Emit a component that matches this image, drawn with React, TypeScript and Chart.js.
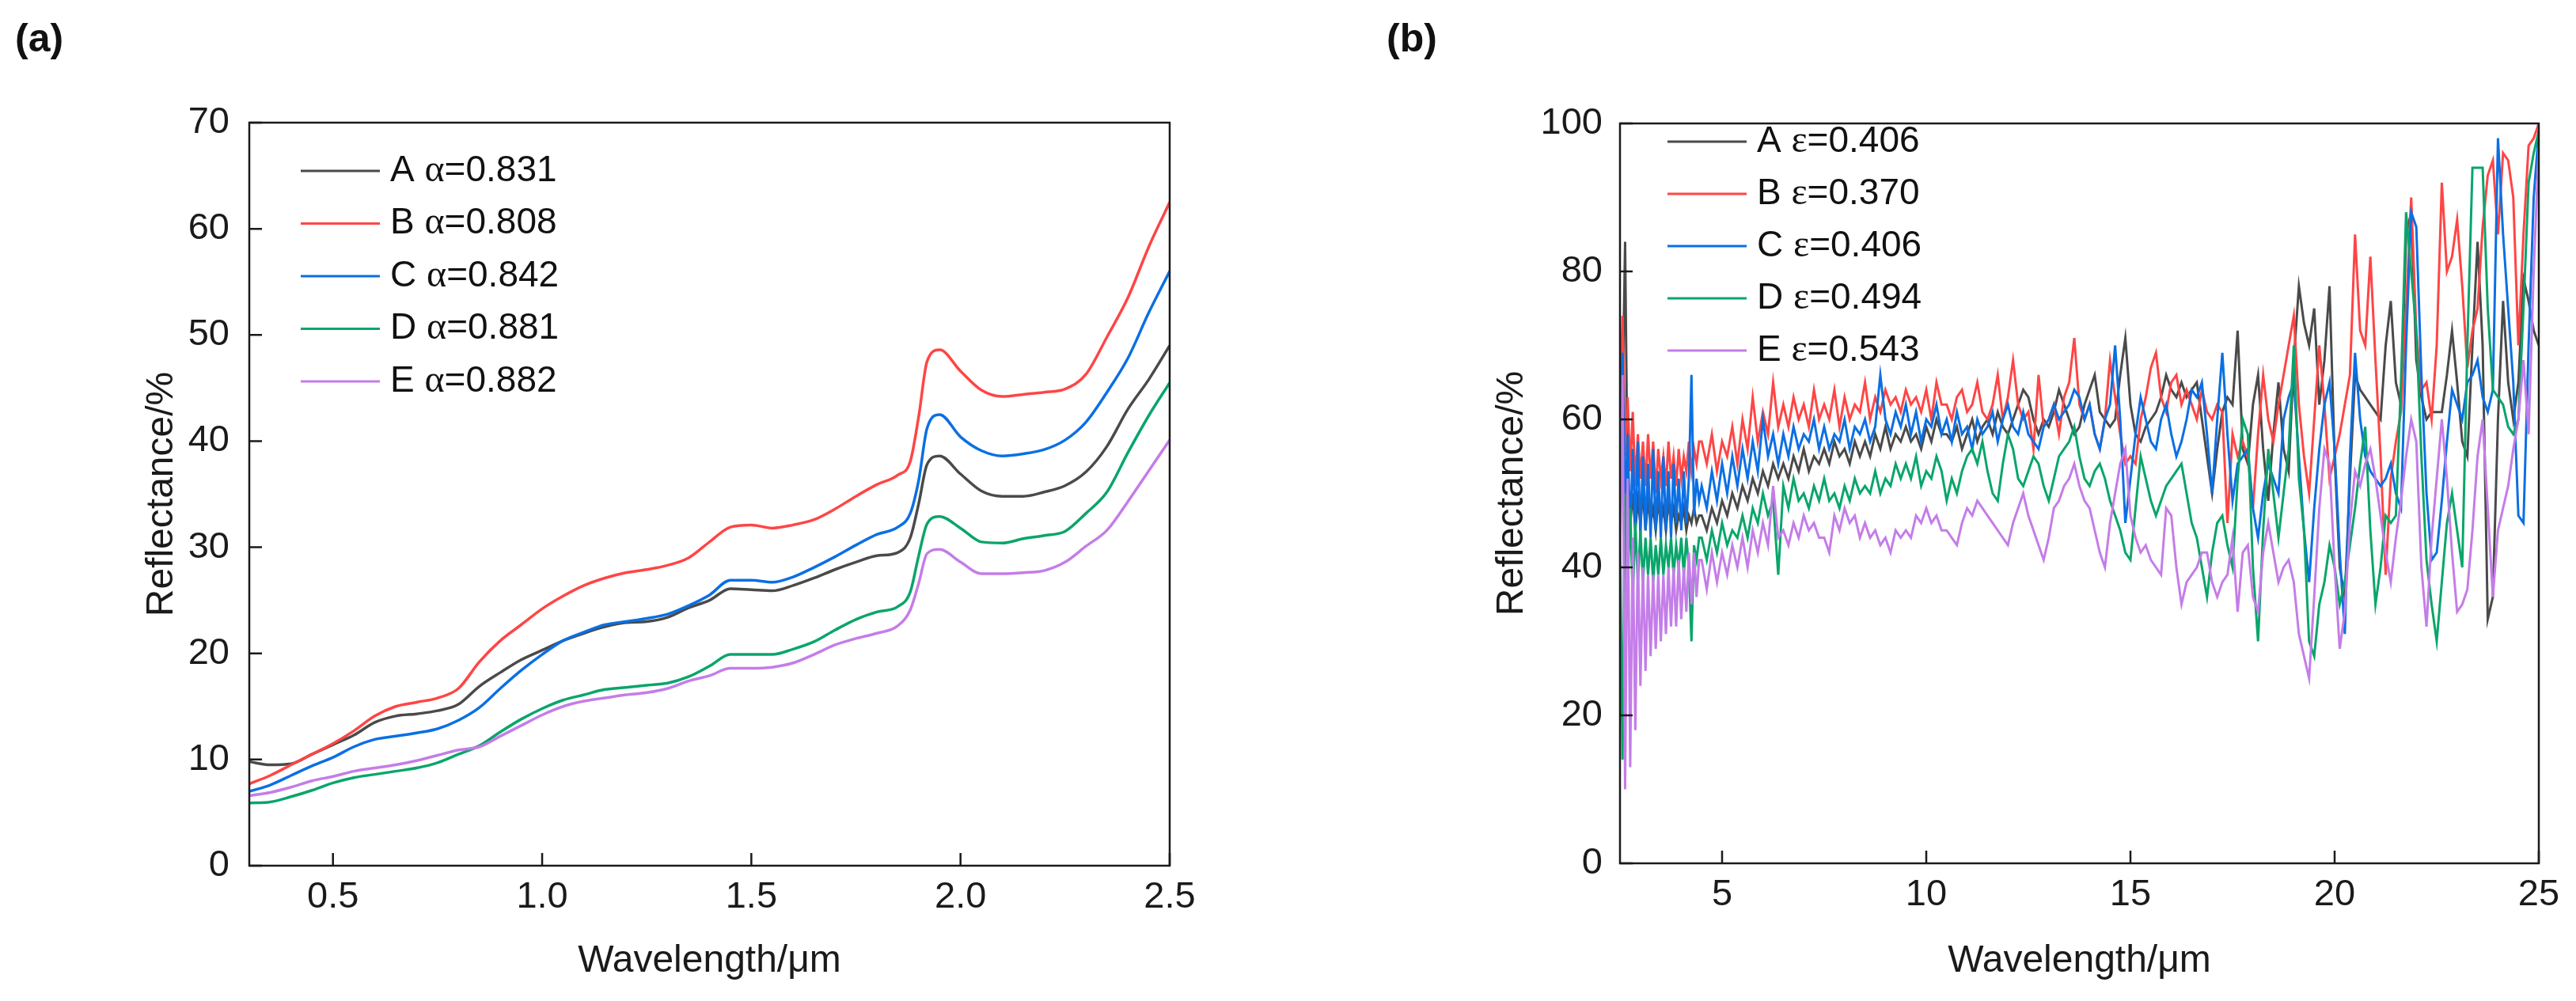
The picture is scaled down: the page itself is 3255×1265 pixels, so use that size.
import React, { useEffect, useRef } from 'react'
import { Chart, registerables } from 'chart.js'

Chart.register(...registerables)

const FONT = '"Liberation Sans", Arial, sans-serif'
const GREEK_FONT = '"Liberation Serif", "Times New Roman", serif'
const COLORS = ['#4a4a4a', '#ff4545', '#0b6fe3', '#0aa56b', '#c47de8']

// (a) solar band, 0.3 - 2.5 µm
const visWave = [
  0.3, 0.35, 0.4, 0.45, 0.5, 0.55, 0.6, 0.65, 0.7, 0.75, 0.8, 0.85, 0.9, 0.95, 1.0, 1.05,
  1.1, 1.15, 1.2, 1.25, 1.3, 1.35, 1.4, 1.45, 1.5, 1.55, 1.6, 1.65, 1.7, 1.75, 1.8, 1.85,
  1.88, 1.9, 1.92, 1.95, 2.0, 2.05, 2.1, 2.15, 2.2, 2.25, 2.3, 2.35, 2.4, 2.45, 2.5,
]
const visA = [
  9.8, 9.5, 9.6, 10.5, 11.4, 12.3, 13.5, 14.1, 14.3, 14.6, 15.2, 16.9, 18.2, 19.4, 20.3, 21.2,
  21.9, 22.5, 22.9, 23.0, 23.4, 24.3, 25.0, 26.1, 26.0, 25.9, 26.4, 27.1, 27.9, 28.6, 29.2, 29.5,
  30.9, 34.1, 37.8, 38.6, 36.9, 35.3, 34.8, 34.8, 35.2, 35.8, 37.1, 39.5, 43.0, 45.8, 49.0,
]
const visB = [
  7.7, 8.5, 9.5, 10.5, 11.5, 12.7, 14.1, 15.0, 15.4, 15.8, 16.7, 19.2, 21.2, 22.7, 24.2, 25.4,
  26.4, 27.1, 27.6, 27.9, 28.3, 29.0, 30.5, 31.9, 32.1, 31.8, 32.1, 32.6, 33.6, 34.8, 35.9, 36.8,
  38.1, 42.3, 47.5, 48.6, 46.6, 44.8, 44.2, 44.4, 44.6, 44.9, 46.3, 49.8, 53.5, 58.3, 62.5,
]
const visC = [
  7.0, 7.6, 8.5, 9.4, 10.2, 11.2, 11.9, 12.2, 12.5, 12.9, 13.7, 14.9, 16.7, 18.4, 19.9, 21.2,
  22.0, 22.7, 23.0, 23.3, 23.7, 24.5, 25.5, 26.9, 26.9, 26.7, 27.2, 28.1, 29.1, 30.2, 31.2, 31.9,
  33.2, 36.3, 41.2, 42.5, 40.4, 39.1, 38.6, 38.8, 39.2, 40.1, 41.8, 44.6, 47.8, 52.1, 56.0,
]
const visD = [
  5.9, 6.0, 6.5, 7.1, 7.8, 8.3, 8.6, 8.9, 9.2, 9.7, 10.5, 11.3, 12.6, 13.8, 14.8, 15.6,
  16.1, 16.6, 16.8, 17.0, 17.2, 17.8, 18.8, 19.9, 19.9, 19.9, 20.4, 21.1, 22.2, 23.2, 23.9, 24.4,
  25.8, 29.2, 32.2, 32.9, 31.8, 30.5, 30.4, 30.8, 31.1, 31.5, 33.2, 35.2, 38.9, 42.4, 45.5,
]
const visE = [
  6.6, 6.9, 7.4, 8.0, 8.4, 8.9, 9.2, 9.5, 9.9, 10.4, 10.9, 11.2, 12.2, 13.2, 14.2, 15.0,
  15.5, 15.8, 16.1, 16.3, 16.7, 17.4, 17.9, 18.6, 18.6, 18.7, 19.1, 19.9, 20.8, 21.4, 21.9, 22.6,
  24.1, 26.6, 29.4, 29.8, 28.6, 27.5, 27.5, 27.6, 27.8, 28.6, 30.1, 31.6, 34.3, 37.2, 40.1,
]
const visNames = ['A α=0.831', 'B α=0.808', 'C α=0.842', 'D α=0.881', 'E α=0.882']
const visXTicks = [0.5, 1.0, 1.5, 2.0, 2.5]
const visYTicks = [0, 10, 20, 30, 40, 50, 60, 70]

// (b) infrared band, 2.5 - 25 µm (finer sampling below 4.5 µm)
const irWave = [
  2.5, 2.5625, 2.625, 2.6875, 2.75, 2.8125, 2.875, 2.9375,
  3, 3.0625, 3.125, 3.1875, 3.25, 3.3125, 3.375, 3.4375,
  3.5, 3.5625, 3.625, 3.6875, 3.75, 3.8125, 3.875, 3.9375,
  4, 4.0625, 4.125, 4.1875, 4.25, 4.3125, 4.375, 4.4375,
  4.5, 4.625, 4.75, 4.875, 5, 5.125, 5.25, 5.375,
  5.5, 5.625, 5.75, 5.875, 6, 6.125, 6.25, 6.375,
  6.5, 6.625, 6.75, 6.875, 7, 7.125, 7.25, 7.375,
  7.5, 7.625, 7.75, 7.875, 8, 8.125, 8.25, 8.375,
  8.5, 8.625, 8.75, 8.875, 9, 9.125, 9.25, 9.375,
  9.5, 9.625, 9.75, 9.875, 10, 10.125, 10.25, 10.375,
  10.5, 10.625, 10.75, 10.875, 11, 11.125, 11.25, 11.375,
  11.5, 11.625, 11.75, 11.875, 12, 12.125, 12.25, 12.375,
  12.5, 12.625, 12.75, 12.875, 13, 13.125, 13.25, 13.375,
  13.5, 13.625, 13.75, 13.875, 14, 14.125, 14.25, 14.375,
  14.5, 14.625, 14.75, 14.875, 15, 15.125, 15.25, 15.375,
  15.5, 15.625, 15.75, 15.875, 16, 16.125, 16.25, 16.375,
  16.5, 16.625, 16.75, 16.875, 17, 17.125, 17.25, 17.375,
  17.5, 17.625, 17.75, 17.875, 18, 18.125, 18.25, 18.375,
  18.5, 18.625, 18.75, 18.875, 19, 19.125, 19.25, 19.375,
  19.5, 19.625, 19.75, 19.875, 20, 20.125, 20.25, 20.375,
  20.5, 20.625, 20.75, 20.875, 21, 21.125, 21.25, 21.375,
  21.5, 21.625, 21.75, 21.875, 22, 22.125, 22.25, 22.375,
  22.5, 22.625, 22.75, 22.875, 23, 23.125, 23.25, 23.375,
  23.5, 23.625, 23.75, 23.875, 24, 24.125, 24.25, 24.375,
  24.5, 24.625, 24.75, 24.875, 25,
]
const irA = [
  55, 62, 84, 50, 46, 50, 45, 49,
  46, 50, 45, 49, 46, 48, 45, 49,
  46, 48, 45, 49, 46, 48, 45, 47,
  46, 48, 45, 47, 46, 48, 46, 47,
  47, 45, 48, 46, 49, 47, 50, 48,
  51, 49, 52, 50, 53, 51, 54, 52,
  54, 52, 55, 53, 56, 53, 55, 54,
  56, 54, 57, 55, 56, 54, 57, 55,
  57, 55, 58, 56, 59, 56, 58, 57,
  59, 57, 58, 56, 59, 57, 60, 58,
  58, 57, 59, 56, 58, 60, 57, 59,
  60, 58, 61, 59, 58, 60, 62, 64,
  63, 60, 58, 60, 59, 61, 64, 62,
  60, 58, 59, 62, 64, 66, 61, 60,
  59, 60, 66, 71, 62, 58, 57, 59,
  60, 61, 63, 66, 64, 63, 65, 63,
  64, 65, 60, 55, 50, 56, 61, 63,
  62, 72, 56, 54, 62, 66, 56, 49,
  58, 65, 56, 53, 68, 78, 73, 70,
  75, 62, 68, 78, 55, 40, 36, 52,
  66, 64, 63, 62, 61, 60, 70, 76,
  65, 62, 85, 88, 68, 63, 60, 61,
  61, 61, 66, 72, 65, 57, 55, 70,
  84, 70, 33, 36, 60, 76, 65, 60,
  65, 79, 76, 72, 70,
]
const irB = [
  62, 74, 55, 63, 53, 61, 51, 58,
  52, 57, 51, 58, 52, 57, 50, 56,
  52, 55, 51, 57, 52, 55, 51, 56,
  52, 55, 53, 57, 53, 56, 54, 57,
  57, 54, 58, 53, 57, 55, 59, 54,
  60, 56, 63, 57, 61, 58, 65, 59,
  62, 59, 63, 60, 62, 59, 64, 60,
  62, 60, 64, 59, 63, 60, 62, 61,
  65, 60, 63, 61, 64, 62, 63, 61,
  64, 62, 63, 61, 64, 60, 65, 62,
  62, 60, 63, 64, 61, 62, 65, 61,
  60, 62, 66, 60, 63, 68, 62, 60,
  61, 56, 66, 59, 60, 62, 58, 63,
  65, 71, 62, 60, 62, 58, 56, 60,
  68, 63, 58, 54, 55, 54, 60, 63,
  67, 69, 63, 61, 65, 66, 62, 64,
  62, 60, 64, 61, 60, 62, 61, 46,
  58, 55, 57, 55, 48, 58, 66, 60,
  57, 62, 66, 70, 74, 62, 55, 50,
  60, 70, 62, 52, 55, 58, 62, 66,
  85, 72, 70, 82, 68, 55, 39, 52,
  57, 61, 75, 90, 72, 64, 65, 60,
  70, 92, 80, 82, 87, 78, 67, 72,
  75, 86, 93, 95, 85, 96, 95, 90,
  70, 85, 97, 98, 100,
]
const irC = [
  60, 69, 48, 58, 44, 56, 45, 57,
  44, 55, 45, 54, 44, 56, 45, 53,
  44, 55, 45, 53, 44, 54, 46, 52,
  45, 53, 46, 52, 66, 47, 52, 49,
  51, 48, 53, 49, 54, 50, 55, 51,
  56, 52, 57, 53, 60, 55, 58, 54,
  58, 55, 59, 56, 58, 57, 60, 56,
  59, 56, 58, 57, 60, 56, 59, 58,
  60, 57, 59, 66, 60, 58, 61, 59,
  62, 58, 61, 57, 60, 59, 62, 58,
  60, 57, 61, 58, 59, 56, 60, 58,
  59, 61, 57, 60, 62, 59, 58, 61,
  58, 57, 56, 59, 60, 62, 60, 61,
  62, 64, 63, 60, 62, 58, 56, 60,
  62, 70, 60, 46, 52, 58, 63, 60,
  57, 56, 60, 62, 58, 55, 57, 60,
  64, 63, 65, 58, 50, 60, 69, 58,
  49, 54, 55, 56, 48, 44, 50, 54,
  52, 50, 60, 63, 65, 55, 45, 38,
  48, 56, 62, 65, 56, 42, 31, 55,
  69, 60, 55, 53, 52, 51, 52, 54,
  50, 48, 70, 88, 86, 66, 50, 41,
  42, 49, 57, 64, 62, 60, 65, 66,
  68, 63, 61, 64, 98, 85, 75, 65,
  47, 46, 70, 90, 99,
]
const irD = [
  45, 14, 50, 37, 48, 36, 46, 38,
  45, 38, 44, 39, 44, 38, 43, 39,
  44, 39, 43, 40, 44, 39, 43, 40,
  44, 39, 44, 40, 30, 43, 41, 44,
  44, 41, 45, 42, 46, 43, 45, 44,
  47, 44, 48, 46, 50, 47, 49, 39,
  51, 48, 52, 49, 50, 48, 51, 49,
  52, 49, 50, 48, 51, 49, 52, 50,
  51, 50, 53, 50, 52, 51, 54, 52,
  54, 52, 55, 51, 53, 52, 55, 53,
  49, 52, 50, 53, 55, 56, 54, 57,
  53, 50, 49, 54, 58, 56, 52, 51,
  53, 55, 54, 51, 49, 52, 55, 56,
  57, 59, 55, 52, 51, 53, 54, 52,
  49, 47, 45, 42, 41, 48, 55, 52,
  49, 47, 49, 51, 52, 53, 54, 50,
  46, 44, 40, 36, 42, 46, 47, 43,
  40, 52, 60, 58, 40, 30, 45, 56,
  50, 44, 50, 56, 70, 52, 45, 30,
  28, 35, 38, 43, 40, 35, 38, 43,
  48, 54, 59, 45, 35, 40, 47, 46,
  47, 65, 88, 80, 72, 55, 41, 35,
  30, 38, 46, 50, 45, 40, 70, 94,
  94, 94, 75, 64, 63, 62, 59, 58,
  60, 75, 92, 96, 99,
]
const irE = [
  40, 66, 10, 52, 13, 44, 18, 42,
  24, 40, 26, 39, 28, 39, 29, 39,
  30, 39, 31, 40, 32, 40, 32, 41,
  33, 40, 34, 42, 35, 42, 36, 41,
  41, 37, 42, 38, 42, 39, 43, 40,
  44, 40, 45, 42, 46, 43, 51, 44,
  45, 43, 46, 44, 47, 45, 46, 44,
  44, 42, 47, 45, 48, 46, 47, 44,
  46, 44, 45, 43, 44, 42, 45, 44,
  45, 44, 47, 46, 48, 46, 47, 45,
  45, 44, 43, 46, 48, 47, 49, 48,
  47, 46, 45, 44, 43, 46, 48, 50,
  47, 45, 43, 41, 44, 48, 49, 51,
  52, 54, 51, 49, 48, 45, 42, 40,
  46, 50, 54, 56, 47, 44, 42, 43,
  41, 40, 39, 48, 47, 40, 35, 38,
  39, 40, 42, 42, 38, 36, 38, 39,
  44, 34, 42, 43, 36, 34, 42, 46,
  42, 38, 40, 41, 38, 31, 28, 25,
  36, 48, 56, 54, 40, 29, 34, 46,
  53, 51, 54, 56, 52, 47, 42, 38,
  44, 49, 55, 60, 57, 40, 32, 44,
  52, 60, 52, 42, 34, 35, 37, 45,
  55, 60, 48, 36, 45, 48, 51, 56,
  60, 68, 58, 80, 97,
]
const irNames = ['A ε=0.406', 'B ε=0.370', 'C ε=0.406', 'D ε=0.494', 'E ε=0.543']
const irXTicks = [5, 10, 15, 20, 25]
const irYTicks = [0, 20, 40, 60, 80, 100]

type Layout = {
  left: number
  width: number
  padTop: number
  padRight: number
  yAxisWidth: number
  xAxisHeight: number
  yTickGap: number
  yTitleX: number
  legendX: number
  legendY: number
  legendStep: number
}

type PanelProps = {
  wave: number[]
  series: number[][]
  names: string[]
  xMin: number
  xMax: number
  yMax: number
  xTicks: number[]
  yTicks: number[]
  decimals: number
  smooth: boolean
  lineWidth: number
  layout: Layout
}

const SpectrumPanel = ({ wave, series, names, xMin, xMax, yMax, xTicks, yTicks, decimals, smooth, lineWidth, layout }: PanelProps) => {
  const chartRef = useRef<HTMLCanvasElement>(null)

  useEffect(() => {
    if (!chartRef.current) return

    // box round the plot, with ticks pointing inwards
    const frame = {
      id: 'frame',
      afterDatasetsDraw(chart: any) {
        const { ctx, chartArea: a, scales } = chart
        ctx.save()
        ctx.strokeStyle = '#1a1a1a'
        ctx.lineWidth = 2.5
        ctx.strokeRect(a.left, a.top, a.right - a.left, a.bottom - a.top)
        ctx.beginPath()
        xTicks.forEach((v) => {
          const x = scales.x.getPixelForValue(v)
          ctx.moveTo(x, a.bottom)
          ctx.lineTo(x, a.bottom - 16)
        })
        yTicks.forEach((v) => {
          const y = scales.y.getPixelForValue(v)
          ctx.moveTo(a.left, y)
          ctx.lineTo(a.left + 16, y)
        })
        ctx.stroke()
        ctx.restore()
      },
    }

    // legend inside the plot; the greek letter is set in a serif face
    const legend = {
      id: 'inlineLegend',
      afterDraw(chart: any) {
        const { ctx } = chart
        ctx.save()
        names.forEach((name, i) => {
          const y = layout.legendY + i * layout.legendStep
          ctx.strokeStyle = COLORS[i]
          ctx.lineWidth = 3
          ctx.beginPath()
          ctx.moveTo(layout.legendX, y)
          ctx.lineTo(layout.legendX + 100, y)
          ctx.stroke()
          ctx.fillStyle = '#111'
          ctx.textBaseline = 'middle'
          const parts = name.match(/^(.*?)([αε])(.*)$/) || [name, name, '', '']
          let x = layout.legendX + 113
          const pieces: [string, string][] = [
            [parts[1], `46px ${FONT}`],
            [parts[2], `48px ${GREEK_FONT}`],
            [parts[3], `46px ${FONT}`],
          ]
          pieces.forEach(([text, font]) => {
            ctx.font = font
            ctx.fillText(text, x, y)
            x += ctx.measureText(text).width
          })
        })
        ctx.restore()
      },
    }

    const chart = new Chart(chartRef.current, {
      type: 'line',
      data: {
        datasets: series.map((ys, i) => ({
          label: names[i],
          data: wave.map((x, j) => ({ x, y: ys[j] })),
          borderColor: COLORS[i],
          backgroundColor: COLORS[i],
          borderWidth: lineWidth,
          pointRadius: 0,
          fill: false,
          order: series.length - i,
          cubicInterpolationMode: smooth ? 'monotone' : 'default',
          tension: 0,
        })),
      },
      options: {
        responsive: false,
        animation: false,
        events: [],
        layout: { padding: { left: 0, right: layout.padRight, top: layout.padTop, bottom: 0 } },
        plugins: { legend: { display: false }, tooltip: { enabled: false } },
        scales: {
          x: {
            type: 'linear',
            min: xMin,
            max: xMax,
            grid: { display: false, drawTicks: false },
            border: { display: false },
            afterBuildTicks: (s: any) => {
              s.ticks = xTicks.map((v) => ({ value: v }))
            },
            afterFit: (s: any) => {
              s.height = layout.xAxisHeight
            },
            ticks: {
              padding: 12,
              color: '#1a1a1a',
              font: { family: FONT, size: 47 },
              maxRotation: 0,
              autoSkip: false,
              callback: (v: any) => Number(v).toFixed(decimals),
            },
            title: {
              display: true,
              text: 'Wavelength/μm',
              color: '#1a1a1a',
              font: { family: FONT, size: 48 },
              padding: { top: 0, bottom: 21 },
            },
          },
          y: {
            type: 'linear',
            min: 0,
            max: yMax,
            grid: { display: false, drawTicks: false },
            border: { display: false },
            afterBuildTicks: (s: any) => {
              s.ticks = yTicks.map((v) => ({ value: v }))
            },
            afterFit: (s: any) => {
              s.width = layout.yAxisWidth
            },
            ticks: {
              padding: layout.yTickGap,
              color: '#1a1a1a',
              font: { family: FONT, size: 47 },
              autoSkip: false,
            },
            title: {
              display: true,
              text: 'Reflectance/%',
              color: '#1a1a1a',
              font: { family: FONT, size: 48 },
              padding: { top: layout.yTitleX - 28.8, bottom: 0 },
            },
          },
        },
      },
      plugins: [frame, legend],
    } as any)

    return () => {
      chart.destroy()
    }
  }, [])

  return (
    <canvas
      ref={chartRef}
      width={layout.width}
      height={1265}
      style={{ position: 'absolute', left: layout.left, top: 0 }}
    ></canvas>
  )
}

const panelTag: React.CSSProperties = {
  position: 'absolute',
  top: 23,
  font: `bold 50px ${FONT}`,
  lineHeight: '50px',
  color: '#111',
}

export default function App() {
  return (
    <div style={{ position: 'absolute', left: 0, top: 0, width: 3255, height: 1265, background: '#fff', overflow: 'hidden' }}>
      <SpectrumPanel
        wave={visWave}
        series={[visA, visB, visC, visD, visE]}
        names={visNames}
        xMin={0.3}
        xMax={2.5}
        yMax={70}
        xTicks={visXTicks}
        yTicks={visYTicks}
        decimals={1}
        smooth={true}
        lineWidth={3.5}
        layout={{
          left: 0,
          width: 1628,
          padTop: 155,
          padRight: 150,
          yAxisWidth: 315,
          xAxisHeight: 171,
          yTickGap: 25,
          yTitleX: 205,
          legendX: 380,
          legendY: 216,
          legendStep: 66.5,
        }}
      />
      <SpectrumPanel
        wave={irWave}
        series={[irA, irB, irC, irD, irE]}
        names={irNames}
        xMin={2.5}
        xMax={25}
        yMax={100}
        xTicks={irXTicks}
        yTicks={irYTicks}
        decimals={0}
        smooth={false}
        lineWidth={3}
        layout={{
          left: 1628,
          width: 1627,
          padTop: 156,
          padRight: 47,
          yAxisWidth: 419,
          xAxisHeight: 174,
          yTickGap: 22,
          yTitleX: 283,
          legendX: 479,
          legendY: 179,
          legendStep: 66,
        }}
      />
      <div style={{ ...panelTag, left: 19 }}>(a)</div>
      <div style={{ ...panelTag, left: 1752 }}>(b)</div>
    </div>
  )
}
